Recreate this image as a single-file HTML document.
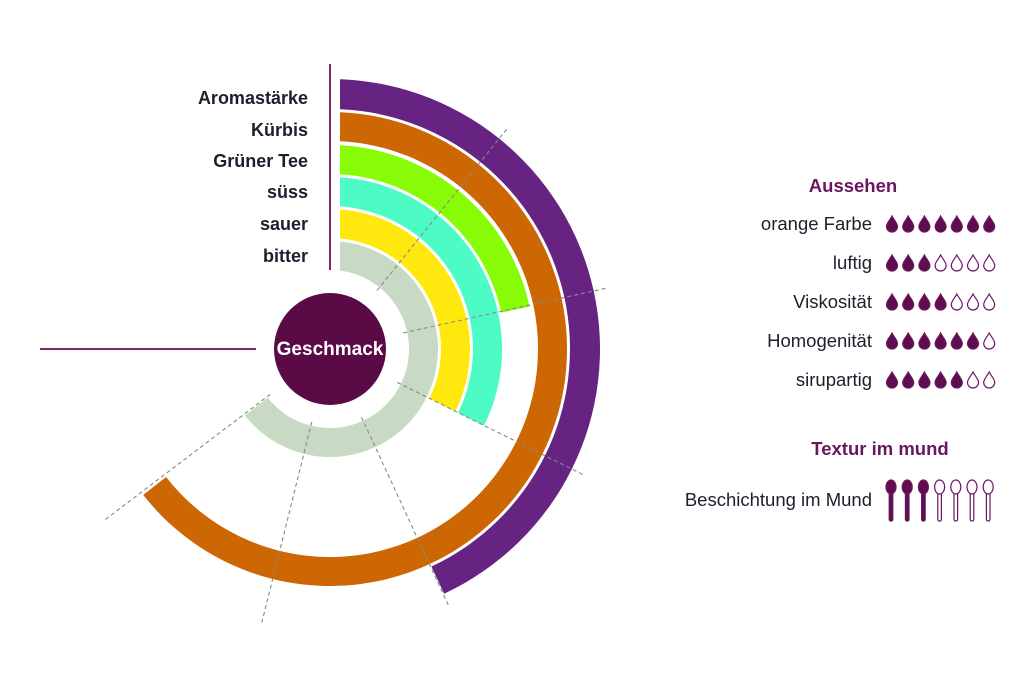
<!DOCTYPE html>
<html><head><meta charset="utf-8"><style>
html,body{margin:0;padding:0;background:#fff;}
svg{display:block;}
text{font-family:"Liberation Sans",sans-serif;}
</style></head><body>
<svg id="s" width="1024" height="697" viewBox="0 0 1024 697" xmlns="http://www.w3.org/2000/svg">
<g id="arcs"></g>
<rect x="320" y="50" width="20" height="299" fill="#fff"/>
<g id="dash"></g>
<line x1="330" y1="64" x2="330" y2="270" stroke="#7a2a6a" stroke-width="2"/>
<line x1="40" y1="349" x2="256" y2="349" stroke="#7a2a6a" stroke-width="2"/>
<circle cx="330" cy="349" r="56" fill="#5a0a44"/>
<text x="330" y="355" text-anchor="middle" font-size="19" font-weight="bold" fill="#fff">Geschmack</text>
<g font-size="18" font-weight="bold" fill="#1e1e2c" text-anchor="end">
<text x="308" y="104">Aromastärke</text>
<text x="308" y="136">Kürbis</text>
<text x="308" y="167">Grüner Tee</text>
<text x="308" y="198">süss</text>
<text x="308" y="230">sauer</text>
<text x="308" y="262">bitter</text>
</g>
<text x="853" y="192" text-anchor="middle" font-size="18.5" font-weight="bold" fill="#6b1660">Aussehen</text>
<text x="880" y="455" text-anchor="middle" font-size="18.5" font-weight="bold" fill="#6b1660">Textur im mund</text>
<g font-size="18.5" fill="#1e1e2c" text-anchor="end">
<text x="872" y="230">orange Farbe</text>
<text x="872" y="269">luftig</text>
<text x="872" y="308">Viskosität</text>
<text x="872" y="347">Homogenität</text>
<text x="872" y="386">sirupartig</text>
<text x="872" y="506">Beschichtung im Mund</text>
</g>
<g id="icons"></g>
</svg>
<script>
var cx=330,cy=349,NS="http://www.w3.org/2000/svg";
function pt(r,a){a=a*Math.PI/180;return [cx+r*Math.sin(a),cy-r*Math.cos(a)];}
function arc(r1,r2,a0,a1,col){
 var p1=pt(r2,a0),p2=pt(r2,a1),p3=pt(r1,a1),p4=pt(r1,a0),L=(a1-a0)>180?1:0;
 var d="M"+p1+" A"+r2+" "+r2+" 0 "+L+" 1 "+p2+" L"+p3+" A"+r1+" "+r1+" 0 "+L+" 0 "+p4+"Z";
 var e=document.createElementNS(NS,"path");e.setAttribute("d",d);e.setAttribute("fill",col);
 document.getElementById("arcs").appendChild(e);}
arc(240,270,0,155,"#672381");
arc(208,237,0,232,"#cc6703");
arc(175,204,0,78,"#87fc06");
arc(143,172,0,116.5,"#4dfcc4");
arc(111,140,0,116.5,"#ffe80d");
arc(79,108,0,232,"#c9dac4");
var g=document.getElementById("dash");
[38.8,77.6,116.4,155.2,194,232.8].forEach(function(a){
 var p=pt(75,a),q=pt(285,a),l=document.createElementNS(NS,"line");
 l.setAttribute("x1",p[0]);l.setAttribute("y1",p[1]);l.setAttribute("x2",q[0]);l.setAttribute("y2",q[1]);
 l.setAttribute("stroke","#888");l.setAttribute("stroke-width","1.1");l.setAttribute("stroke-dasharray","4 3");
 g.appendChild(l);});
var ic=document.getElementById("icons"),h="";
var rows=[[224,7],[263,3],[302,4],[341,6],[380,5]];
rows.forEach(function(r){for(var i=0;i<7;i++){var x=892+i*16.2,y=r[0];var f=i<r[1];
 h+='<path d="M'+x+' '+(y-8)+' C'+(x+2)+' '+(y-4)+' '+(x+5.5)+' '+(y-1)+' '+(x+5.5)+' '+(y+2.5)+' A5.5 5.5 0 0 1 '+(x-5.5)+' '+(y+2.5)+' C'+(x-5.5)+' '+(y-1)+' '+(x-2)+' '+(y-4)+' '+x+' '+(y-8)+'Z" fill="'+(f?'#5e0d4e':'#fff')+'" stroke="#6b1660" stroke-width="1.2"/>';}});
for(var i=0;i<7;i++){var x=891+i*16.2,f=i<3,c=f?'#5e0d4e':'#fff';
 h+='<rect x="'+(x-1.8)+'" y="490" width="3.6" height="31" rx="1.5" fill="'+c+'" stroke="#6b1660" stroke-width="1.2"/>';
 h+='<ellipse cx="'+x+'" cy="487" rx="5" ry="7" fill="'+c+'" stroke="#6b1660" stroke-width="1.2"/>';}
ic.innerHTML=h;
</script>
</body></html>
